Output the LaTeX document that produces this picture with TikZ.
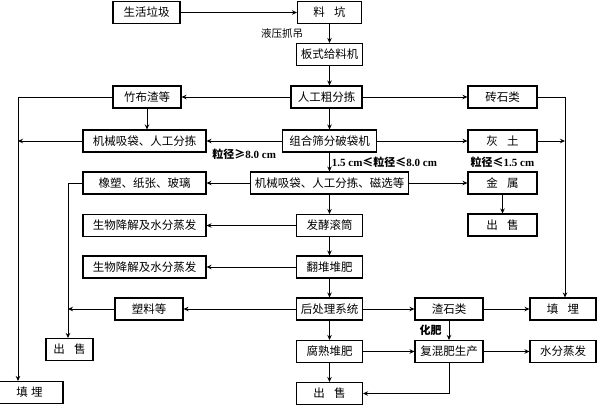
\documentclass[tikz,border=0pt]{standalone}
\usepackage{fontspec}
\setmainfont{Liberation Serif}
\newfontfamily\cjk{Noto Sans CJK SC}
\usetikzlibrary{arrows.meta,positioning}
\tikzset{
  wastebox/.style={rectangle, draw, line width=1.1pt, minimum height=22pt, inner sep=0pt, font=\cjk\fontsize{11.5}{13}\selectfont},
  flowlabel/.style={font=\fontsize{11}{12}\selectfont\bfseries, inner sep=2pt},
  >={Stealth[length=5pt,width=4.5pt]}
}
\newcommand{\wastebox}[4] {\node at (#1) (#2) [wastebox, minimum width=#3pt] {#4};}
\newcommand{\wasteflow}[2] {\draw [->] (#1) -- (#2);}
\newcommand{\wasteleftflow}[3] {\draw [->] (#1) -- (#2) node [midway, left=5pt, flowlabel] {#3};}
\newcommand{\wasterightflow}[3] {\draw [->] (#1) -- (#2) node [midway, right, flowlabel] {#3};}
\newcommand{\wastebelowflow}[3] {\draw [->] (#1) -- (#2) node [midway, below=6pt, flowlabel] {#3};}
\newcommand{\wastexthree}[3] {\draw [->] (#1) -- (#2) -- (#3);}

\begin{document}
\begin{tikzpicture}[x=1pt, y=-1pt, line width=0.9pt]
\useasboundingbox (0,0) rectangle (600,410);

\wastebox {146.5,12.5}{rubbish}{67}{生活垃圾}
\wastebox {329.5,12.5}{pit}{64}{料\hspace{0.8em}坑}
\wastebox {329.5,54.5}{feeder}{66}{板式给料机}
\wastebox {326.5,97}{handsort}{71}{人工粗分拣}
\wastebox {147,97}{bamboo}{68}{竹布渣等}
\coordinate (bamboo1) at (18,97);
\wastebox {502.5,97}{brick}{69}{砖石类}
\coordinate (brick1) at (565,97);
\wastebox {144.5,141}{suction}{123}{机械吸袋、人工分拣}
\wastebox {329.5,141}{sieve}{94}{组合筛分破袋机}
\wastebox {502.5,141}{soil}{69}{灰\hspace{0.8em}土}
\node [below=2pt of soil, flowlabel] (soilsize) {{\cjk 粒径≤}1.5 cm};
\wastebox {329.5,183}{magsort}{158}{机械吸袋、人工分拣、磁选等}
\wastebox {144.5,183}{rubber}{123}{橡塑、纸张、玻璃}
\coordinate (rubber1) at (68,183);
\wastebox {502.5,183}{metal}{69}{金\hspace{0.8em}属}
\wastebox {502.5,225}{sellmetal}{69}{出\hspace{0.8em}售}
\wastebox {329.5,225.5}{ferment}{66}{发酵滚筒}
\wastebox {144.5,225.5}{bioa}{123}{生物降解及水分蒸发}
\wastebox {329.5,267}{turn}{66}{翻堆堆肥}
\wastebox {144.5,267}{biob}{123}{生物降解及水分蒸发}
\wastebox {329.5,309}{post}{66}{后处理系统}
\wastebox {149,309}{plastic}{68}{塑料等}
\wastebox {449,309}{slag}{68}{渣石类}
\wastebox {563,309}{fillright}{66}{填\hspace{0.8em}埋}
\wastebox {329.5,351.5}{compost}{66}{腐熟堆肥}
\wastebox {449,351.5}{compound}{68}{复混肥生产}
\wastebox {563,351.5}{evap}{66}{水分蒸发}
\wastebox {329.5,393.5}{sellbottom}{66}{出\hspace{0.8em}售}
\wastebox {69.5,349.5}{sellleft}{47}{出\hspace{0.8em}售}
\wastebox {29.5,392.5}{fillleft}{67}{填\hspace{0.3em}埋}

\wasteflow {rubbish}{pit}
\draw [->] (pit) -- (feeder) node [midway, left=24pt, flowlabel, font=\cjk\fontsize{10.5}{12}\selectfont] {液压抓吊};
\wasteflow {feeder.south}{feeder.south |- handsort.north}
\wasteflow {handsort}{bamboo}
\wasteflow {handsort}{brick}
\wasteflow {sieve |- handsort.south}{sieve}
\wastexthree {bamboo}{bamboo1}{bamboo1 |- fillleft.north}
\wasteflow {bamboo.south}{bamboo.south |- suction.north}
\wasteflow {suction}{suction -| bamboo1}
\wastebelowflow {sieve}{suction}{{\cjk 粒径≥}8.0 cm}
\wasteflow {sieve}{soil}
\wasteflow {soil}{soil -| brick1}
\wastexthree {brick}{brick1}{brick1 |- fillright.north}
\wasterightflow {sieve}{magsort}{1.5 cm{\cjk ≤粒径≤}8.0 cm}
\wasteflow {magsort}{metal}
\wasteflow {metal}{sellmetal}
\wasteflow {magsort}{rubber}
\wastexthree {rubber}{rubber1}{rubber1 |- sellleft.north}
\wasteflow {magsort}{ferment}
\wasteflow {ferment}{bioa}
\wasteflow {ferment}{turn}
\wasteflow {turn}{biob}
\wasteflow {turn}{post}
\wasteflow {post}{plastic}
\wasteflow {plastic}{plastic -| rubber1}
\wasteflow {post}{slag}
\wasteflow {slag}{fillright}
\wasteflow {post}{compost}
\wasteleftflow {slag}{compound}{\cjk 化肥}
\wasteflow {compost}{compound}
\wasteflow {compound}{evap}
\wasteflow {compost}{sellbottom}
\wastexthree {compound}{compound |- sellbottom}{sellbottom}
\end{tikzpicture}
\end{document}
